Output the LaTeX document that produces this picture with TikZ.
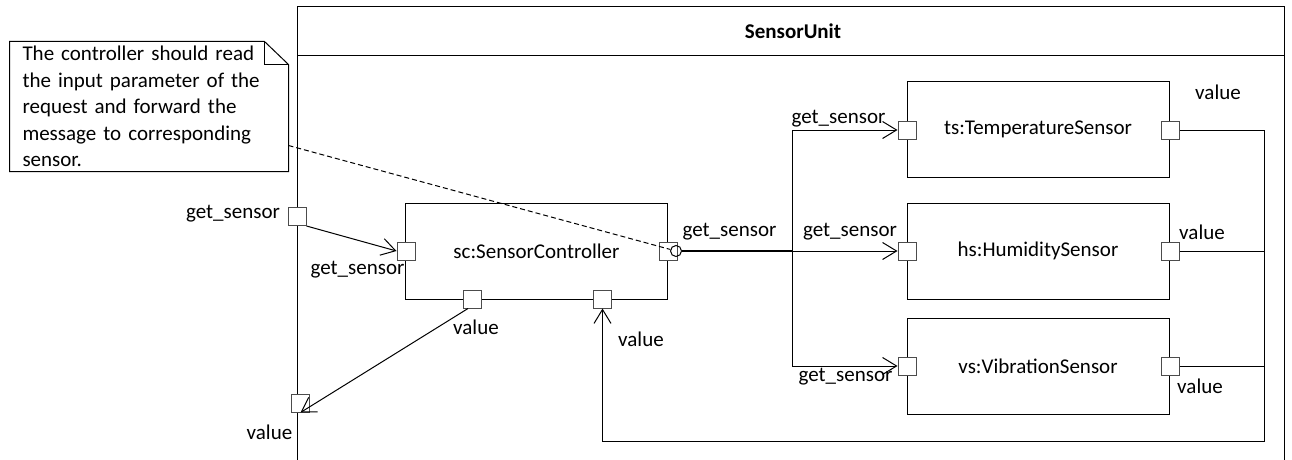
\documentclass[tikz,border=0pt]{standalone}
\usepackage{fontspec}
\setmainfont{Carlito}
\usetikzlibrary{arrows.meta, positioning, calc}

\begin{document}
\begin{tikzpicture}[x=1pt, y=-1pt, line width=1pt, >={Straight Barb[length=14pt, width=17pt]},
    every node/.style={font=\fontsize{21}{26.5}\selectfont},
    part/.style={draw, minimum width=262pt, minimum height=96pt, inner sep=0pt},
    port/.style={draw=black!70, fill=white, minimum size=18pt, inner sep=0pt}]
    \useasboundingbox (0,0) rectangle (1292,460);
    % SensorUnit frame
    \draw (297,460) -- (297,7) -- (1284,7) -- (1284,460);
    \draw (297,56) -- (1284,56);
    \node[font=\fontsize{21}{24}\selectfont\bfseries] (title) at (793,31) {SensorUnit};
    % note
    \node[minimum width=278pt, minimum height=129pt, text width=253pt, align=left, inner sep=0pt] (note) at (149,106.5) {The controller should read\\ the input parameter of the\\ request and forward the\\ message to corresponding\\ sensor.};
    \draw (note.north west) -- ([xshift=-24pt]note.north east) -- ([yshift=-23pt]note.north east) -- (note.south east) -- (note.south west) -- cycle;
    \draw ([xshift=-24pt]note.north east) -- ([xshift=-24pt, yshift=-23pt]note.north east) -- ([yshift=-23pt]note.north east);
    % parts
    \node[part] (sc) at (536.5,251) {sc:SensorController};
    \node[part] (ts) at (1038,129) {ts:TemperatureSensor};
    \node[part] (hs) at (1038,251) {hs:HumiditySensor};
    \node[part] (vs) at (1038,366) {vs:VibrationSensor};
    % ports
    \node[port] (pin) at (297,216.5) {};
    \node[port] (pout) at (300.5,403) {};
    \node[port] (scin) at (406,251) {};
    \node[port] (scv1) at (472,299) {};
    \node[port] (scv2) at (602.5,299) {};
    \node[port] (scout) at (668,251) {};
    \node[draw, circle, minimum size=11pt, inner sep=0pt] (sock) at (676,251) {};
    \node[port] (tsin) at (907,130) {};
    \node[port] (hsin) at (907,251) {};
    \node[port] (vsin) at (907,366) {};
    \node[port] (tsout) at (1170,130) {};
    \node[port] (hsout) at (1170,251) {};
    \node[port] (vsout) at (1170,366) {};
    % port labels
    \node (l1) at (233,214) {get\_sensor};
    \node (l2) at (357.5,270) {get\_sensor};
    \node (l3) at (269.5,432) {value};
    \node (l4) at (476,327) {value};
    \node (l5) at (641,339) {value};
    \node (l6) at (729.5,232) {get\_sensor};
    \node (l7) at (838.5,119) {get\_sensor};
    \node (l8) at (850,232) {get\_sensor};
    \node (l9) at (845.5,377) {get\_sensor};
    \node (l10) at (1218,92) {value};
    \node (l11) at (1202,232) {value};
    \node (l12) at (1200,386) {value};
    % connectors
    \coordinate (fork) at (792,251);
    \coordinate (fb) at (1264,441);
    \draw[->] (pin.south east) -- (scin.west);
    \draw[->] ([xshift=-4pt]scv1.south) -- (pout.south);
    \draw[line width=2.2pt] (sock.east) -- (fork);
    \draw[->] (fork) -- (hsin.west);
    \draw[->] (fork) |- (tsin.west);
    \draw[->] (fork) |- (vsin.west);
    \draw[->] (tsout.east) -| (fb) -| (scv2.south);
    \draw (hsout.east) -- (hsout.east -| fb);
    \draw (vsout.east) -- (vsout.east -| fb);
    \draw[dashed, dash pattern=on 5pt off 3pt] ([yshift=26pt]note.south east) -- (sock);
\end{tikzpicture}
\end{document}
